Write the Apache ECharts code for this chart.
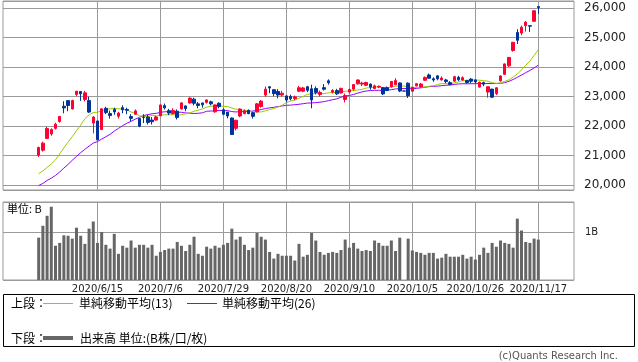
<!DOCTYPE html>
<html><head><meta charset="utf-8">
<script src="https://cdn.jsdelivr.net/npm/echarts@6/dist/echarts.min.js"></script>
<style>html,body{margin:0;padding:0;background:#fff}#c{width:638px;height:362px}</style>
</head><body><div id="c"></div>
<script>
const dates = [
'2020/5/26','2020/5/27','2020/5/28','2020/5/29','2020/6/1','2020/6/2','2020/6/3','2020/6/4','2020/6/5','2020/6/8','2020/6/9','2020/6/10','2020/6/11','2020/6/12','2020/6/15',
'2020/6/16','2020/6/17','2020/6/18','2020/6/19','2020/6/22','2020/6/23','2020/6/24','2020/6/25','2020/6/26','2020/6/29','2020/6/30','2020/7/1','2020/7/2','2020/7/3','2020/7/6',
'2020/7/7','2020/7/8','2020/7/9','2020/7/10','2020/7/13','2020/7/14','2020/7/15','2020/7/16','2020/7/17','2020/7/20','2020/7/21','2020/7/22','2020/7/27','2020/7/28','2020/7/29',
'2020/7/30','2020/7/31','2020/8/3','2020/8/4','2020/8/5','2020/8/6','2020/8/7','2020/8/11','2020/8/12','2020/8/13','2020/8/14','2020/8/17','2020/8/18','2020/8/19','2020/8/20',
'2020/8/21','2020/8/24','2020/8/25','2020/8/26','2020/8/27','2020/8/28','2020/8/31','2020/9/1','2020/9/2','2020/9/3','2020/9/4','2020/9/7','2020/9/8','2020/9/9','2020/9/10',
'2020/9/11','2020/9/14','2020/9/15','2020/9/16','2020/9/17','2020/9/18','2020/9/23','2020/9/24','2020/9/25','2020/9/28','2020/9/29','2020/9/30','2020/10/1','2020/10/2','2020/10/5',
'2020/10/6','2020/10/7','2020/10/8','2020/10/9','2020/10/12','2020/10/13','2020/10/14','2020/10/15','2020/10/16','2020/10/19','2020/10/20','2020/10/21','2020/10/22','2020/10/23','2020/10/26',
'2020/10/27','2020/10/28','2020/10/29','2020/10/30','2020/11/2','2020/11/4','2020/11/5','2020/11/6','2020/11/9','2020/11/10','2020/11/11','2020/11/12','2020/11/13','2020/11/16','2020/11/17'
];
const opens = [
21010,21180,21580,21730,21920,22150,22670,22860,22580,23070,23170,22900,22860,22100,22170,
21880,22600,22420,22560,22330,22620,22560,22320,22400,22250,22300,22300,22200,22200,22350,
22690,22520,22420,22500,22580,22680,22780,22910,22750,22780,22800,22820,22480,22770,22550,
22470,22270,21920,22340,22420,22530,22450,22480,22660,23050,23330,23230,23170,23050,23020,
23000,22930,23180,23180,23330,23260,23270,23070,23300,23530,23150,23200,23120,22900,23150,
23250,23430,23420,23380,23420,23270,23320,23300,23300,23330,23400,23460,23185,23450,23180,
23360,23320,23550,23730,23600,23700,23560,23560,23470,23520,23650,23560,23540,23590,23560,
23320,23470,23150,23250,23100,23530,23750,24040,24560,25170,25150,25400,25400,25550,26050
];
const highs = [
21300,21470,21970,21920,22110,22340,22840,22880,22890,23190,23185,23190,22990,22330,22180,
22600,22650,22520,22620,22480,22700,22620,22400,22560,22260,22400,22380,22300,22350,22730,
22760,22580,22600,22560,22800,22700,22970,22960,22810,22790,22900,22860,22730,22800,22600,
22480,22290,22210,22590,22560,22560,22480,22780,22880,23340,23340,23250,23250,23190,23030,
23060,23030,23360,23330,23360,23400,23340,23200,23420,23580,23250,23260,23300,23100,23270,
23420,23580,23500,23500,23440,23400,23370,23320,23340,23520,23620,23480,23185,23480,23320,
23450,23460,23680,23780,23650,23720,23680,23600,23520,23700,23700,23680,23560,23620,23580,
23500,23500,23340,23260,23310,23720,24120,24330,24840,25280,25400,25560,25420,25910,26060
];
const lows = [
20950,21130,21560,21670,21880,22110,22430,22500,22560,23010,22850,22830,22440,21750,21530,
21860,22400,22250,22380,22250,22430,22400,22160,22380,21960,22100,22050,22050,22180,22330,
22560,22370,22390,22220,22560,22500,22760,22700,22600,22620,22760,22700,22450,22600,22380,
22260,21710,21850,22300,22400,22400,22250,22460,22620,22990,23110,23010,22940,23000,22800,
22870,22870,23150,23150,23150,22600,23070,23000,23200,23400,23100,23050,23100,22800,23100,
23200,23400,23350,23350,23230,23250,23280,23050,23180,23300,23380,23150,23185,22950,23150,
23340,23300,23530,23600,23500,23550,23540,23450,23380,23500,23520,23540,23440,23450,23440,
23300,23350,22960,22950,23050,23500,23730,24000,24520,24780,25080,25200,25190,25540,25800
];
const closes = [
21271,21419,21916,21877,22062,22325,22613,22695,22863,23178,23091,23124,22472,22305,21530,
22582,22455,22355,22478,22437,22549,22534,22259,22512,21995,22288,22121,22145,22306,22714,
22614,22438,22529,22290,22784,22587,22945,22770,22696,22717,22884,22751,22715,22657,22397,
22339,21710,22195,22573,22514,22418,22329,22750,22843,23249,23289,23097,23051,23110,22880,
22920,22985,23296,23290,23208,22882,23139,23138,23247,23465,23205,23089,23274,23032,23235,
23406,23559,23454,23475,23319,23360,23346,23087,23204,23511,23539,23185,23185,23029,23312,
23433,23422,23647,23619,23558,23601,23626,23507,23410,23671,23567,23639,23474,23516,23494,
23485,23418,23331,22977,23295,23695,24105,24325,24839,24905,25349,25520,25385,25906,26014
];
// closes of the 25 sessions before the first candle (needed for the moving averages)
const priorCloses = [19550,19290,19897,19669,19280,19137,19429,19262,19783,19771,20193,19619,19674,
20179,20390,20366,20267,19615,20037,20133,20433,20595,20552,20388,20741];
// volume, unit B
const volumes = [
0.89,1.14,1.35,1.54,0.72,0.78,0.94,0.93,0.87,1.10,0.93,0.76,1.08,1.23,0.78,
1.01,0.74,0.66,0.97,0.55,0.72,0.68,0.83,0.68,0.74,0.74,0.68,0.74,0.51,0.59,
0.63,0.66,0.66,0.80,0.72,0.61,0.74,0.91,0.55,0.51,0.70,0.66,0.72,0.68,0.74,
0.78,1.08,0.85,0.91,0.74,0.63,0.68,0.99,0.91,0.85,0.59,0.45,0.55,0.51,0.51,
0.51,0.41,0.76,0.49,0.53,0.99,0.83,0.59,0.53,0.57,0.59,0.57,0.63,0.85,0.68,
0.78,0.66,0.61,0.63,0.61,0.83,0.78,0.72,0.72,0.83,0.61,0.89,0,0.87,0.62,
0.59,0.57,0.53,0.57,0.57,0.45,0.47,0.55,0.49,0.49,0.49,0.53,0.45,0.49,0.43,
0.53,0.68,0.57,0.78,0.70,0.83,0.78,0.76,0.68,1.29,1.04,0.80,0.78,0.87,0.85
];
const labelDates = ['2020/6/15','2020/7/6','2020/7/29','2020/8/20','2020/9/10','2020/10/5','2020/10/26','2020/11/17'];
const maPeriods = [13, 26];
const legendTexts = ['単純移動平均(13)','単純移動平均(26)','出来高 単位:(B株/口/枚)'];

const PAD = 8;
const padCats = [];
for (let i = 0; i < PAD; i++) padCats.push('_a' + i);
const padCats2 = [];
for (let i = 0; i < PAD; i++) padCats2.push('_b' + i);
const cats = padCats.concat(dates, padCats2);
const lead = padCats.map(() => '-');

const allCloses = priorCloses.concat(closes);
function sma(n) {
  return closes.map((c, i) => {
    const end = priorCloses.length + i;
    let s = 0;
    for (let k = end - n + 1; k <= end; k++) s += allCloses[k];
    return +(s / n).toFixed(1);
  });
}
const ma13 = sma(maPeriods[0]);
const ma26 = sma(maPeriods[1]);
const candles = dates.map((d, i) => [opens[i], closes[i], lows[i], highs[i]]);

const isLabel = (idx, val) => labelDates.indexOf(val) >= 0;
const GRID = '#9a9a9a';
const FONT = 'DejaVu Sans';
const JFONT = 'Noto Sans CJK JP';

const chart = echarts.init(document.getElementById('c'), null, {renderer: 'canvas'});
chart.setOption({
  animation: false,
  backgroundColor: '#fff',
  grid: [
    {left: 3, top: 1, width: 571, height: 189, show: true, borderColor: GRID, borderWidth: 1},
    {left: 3, top: 202, width: 571, height: 78, show: true, borderColor: GRID, borderWidth: 1}
  ],
  xAxis: [
    {type: 'category', gridIndex: 0, data: cats, boundaryGap: true,
     axisLine: {show: false}, axisTick: {show: false}, axisLabel: {show: false},
     splitLine: {show: true, interval: isLabel, alignWithLabel: true, lineStyle: {color: GRID, width: 1}}},
    {type: 'category', gridIndex: 1, data: cats, boundaryGap: true,
     axisLine: {show: false}, axisTick: {show: false},
     axisLabel: {show: true, interval: isLabel, fontSize: 10, fontFamily: FONT, color: '#222', margin: 4},
     splitLine: {show: true, interval: isLabel, alignWithLabel: true, lineStyle: {color: GRID, width: 1}}}
  ],
  yAxis: [
    {type: 'value', gridIndex: 0, position: 'right', min: 19830, max: 26237, splitNumber: 6, scale: false,
     axisLine: {show: false}, axisTick: {show: false},
     axisLabel: {margin: 10, fontSize: 12, fontFamily: FONT, color: '#222',
       formatter: v => (Math.abs(v % 1000) < 0.001 ? v.toLocaleString('en-US') : '')},
     splitLine: {show: true, lineStyle: {color: GRID, width: 1}}},
    {type: 'value', gridIndex: 1, position: 'right', min: 0, max: 1.64, interval: 1,
     axisLine: {show: false}, axisTick: {show: false},
     axisLabel: {margin: 11, fontSize: 10, fontFamily: FONT, color: '#222',
       formatter: v => (v === 1 ? '1B' : '')},
     splitLine: {show: true, lineStyle: {color: GRID, width: 1}}}
  ],
  series: [
    {type: 'line', name: 'ma26', xAxisIndex: 0, yAxisIndex: 0, data: lead.concat(ma26),
     showSymbol: false, symbol: 'none', lineStyle: {color: '#9900ff', width: 1}, z: 3},
    {type: 'line', name: 'ma13', xAxisIndex: 0, yAxisIndex: 0, data: lead.concat(ma13),
     showSymbol: false, symbol: 'none', lineStyle: {color: '#99cc00', width: 1}, z: 3},
    {type: 'candlestick', xAxisIndex: 0, yAxisIndex: 0, data: lead.concat(candles), barWidth: 3, z: 4,
     itemStyle: {color: '#ff0033', color0: '#003399', borderColor: '#ff0033', borderColor0: '#003399',
       borderColorDoji: '#003399', borderWidth: 1}},
    {type: 'bar', xAxisIndex: 1, yAxisIndex: 1, data: lead.concat(volumes), barWidth: 3,
     itemStyle: {color: '#666666'}}
  ],
  graphic: [
    {type: 'text', left: 7, top: 203, style: {text: '単位: B', font: '11px ' + JFONT, fill: '#000'}},
    {type: 'rect', shape: {x: 3.5, y: 294.5, width: 631, height: 52}, style: {fill: 'none', stroke: '#000', lineWidth: 1}},
    {type: 'text', x: 11, y: 303, style: {text: '上段：', font: '12px ' + JFONT, fill: '#000', verticalAlign: 'middle'}},
    {type: 'line', shape: {x1: 43, y1: 303.5, x2: 73, y2: 303.5}, style: {stroke: '#99cc00', lineWidth: 1}},
    {type: 'text', x: 79, y: 303, style: {text: legendTexts[0], font: '12px ' + JFONT, fill: '#000', verticalAlign: 'middle'}},
    {type: 'line', shape: {x1: 187, y1: 303.5, x2: 217, y2: 303.5}, style: {stroke: '#9900ff', lineWidth: 1}},
    {type: 'text', x: 222, y: 303, style: {text: legendTexts[1], font: '12px ' + JFONT, fill: '#000', verticalAlign: 'middle'}},
    {type: 'text', x: 11, y: 338, style: {text: '下段：', font: '12px ' + JFONT, fill: '#000', verticalAlign: 'middle'}},
    {type: 'line', shape: {x1: 43, y1: 338, x2: 73, y2: 338}, style: {stroke: '#666666', lineWidth: 4}},
    {type: 'text', x: 80, y: 338, style: {text: legendTexts[2], font: '12px ' + JFONT, fill: '#000', verticalAlign: 'middle'}},
    {type: 'text', x: 618, y: 356, style: {text: '(c)Quants Research Inc.', font: '10px ' + FONT, fill: '#555', align: 'right', verticalAlign: 'middle'}}
  ]
});
</script></body></html>
